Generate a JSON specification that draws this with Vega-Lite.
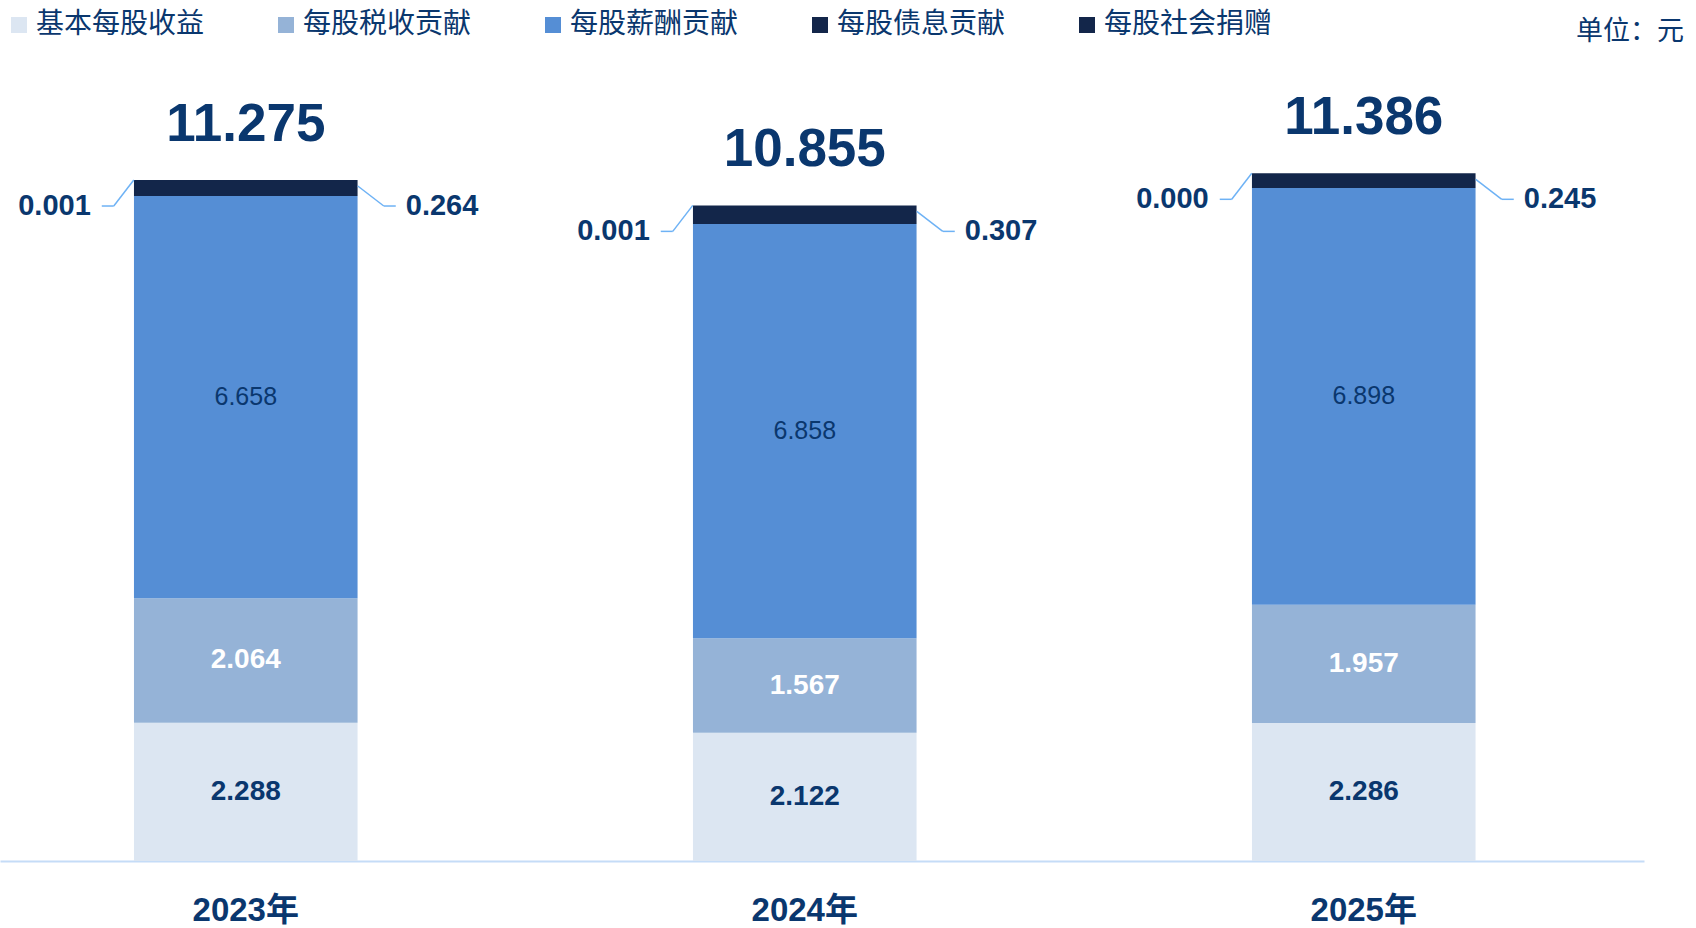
{
  "$schema": "https://vega.github.io/schema/vega-lite/v6.json",
  "width": 1644,
  "height": 801,
  "autosize": {"type": "none"},
  "padding": {"top": 60, "left": 0, "right": 52, "bottom": 67},
  "background": "white",
  "config": {"view": {"stroke": null}},
  "datasets": {
    "segments": [
      {"year": "2023年", "category": "基本每股收益", "ord": 1, "value": 2.288},
      {"year": "2023年", "category": "每股税收贡献", "ord": 2, "value": 2.064},
      {"year": "2023年", "category": "每股薪酬贡献", "ord": 3, "value": 6.658},
      {"year": "2023年", "category": "每股债息贡献", "ord": 4, "value": 0.264},
      {"year": "2023年", "category": "每股社会捐赠", "ord": 5, "value": 0.001},
      {"year": "2024年", "category": "基本每股收益", "ord": 1, "value": 2.122},
      {"year": "2024年", "category": "每股税收贡献", "ord": 2, "value": 1.567},
      {"year": "2024年", "category": "每股薪酬贡献", "ord": 3, "value": 6.858},
      {"year": "2024年", "category": "每股债息贡献", "ord": 4, "value": 0.307},
      {"year": "2024年", "category": "每股社会捐赠", "ord": 5, "value": 0.001},
      {"year": "2025年", "category": "基本每股收益", "ord": 1, "value": 2.286},
      {"year": "2025年", "category": "每股税收贡献", "ord": 2, "value": 1.957},
      {"year": "2025年", "category": "每股薪酬贡献", "ord": 3, "value": 6.898},
      {"year": "2025年", "category": "每股债息贡献", "ord": 4, "value": 0.245},
      {"year": "2025年", "category": "每股社会捐赠", "ord": 5, "value": 0.000}
    ],
    "totals": [
      {"year": "2023年", "total": 11.275, "debt": 0.264, "donation": 0.001},
      {"year": "2024年", "total": 10.855, "debt": 0.307, "donation": 0.001},
      {"year": "2025年", "total": 11.386, "debt": 0.245, "donation": 0.000}
    ]
  },
  "title": {
    "text": "单位：元",
    "anchor": "end",
    "frame": "group",
    "font": "Noto Sans CJK SC",
    "fontSize": 27,
    "fontWeight": "normal",
    "color": "#0a376e",
    "offset": 0,
    "dx": 40,
    "dy": 35
  },
  "encoding": {
    "x": {
      "field": "year",
      "type": "nominal",
      "sort": ["2023年", "2024年", "2025年"],
      "scale": {"paddingInner": 0.6, "paddingOuter": 0.2705, "align": 0.443},
      "axis": {
        "title": null,
        "domainColor": "#c5dcf7",
        "domainWidth": 2,
        "ticks": false,
        "grid": false,
        "labelAngle": 0,
        "labelFont": "Liberation Sans, Noto Sans CJK SC",
        "labelFontSize": 33,
        "labelFontWeight": "bold",
        "labelColor": "#0a376e",
        "labelPadding": 33
      }
    }
  },
  "layer": [
    {
      "data": {"name": "segments"},
      "mark": {"type": "bar"},
      "encoding": {
        "y": {
          "field": "value",
          "type": "quantitative",
          "stack": "zero",
          "scale": {"domain": [0, 13.262], "nice": false, "zero": true},
          "axis": null
        },
        "color": {
          "field": "category",
          "type": "nominal",
          "scale": {
            "domain": ["基本每股收益", "每股税收贡献", "每股薪酬贡献", "每股债息贡献", "每股社会捐赠"],
            "range": ["#DCE6F2", "#95B3D7", "#558ED5", "#13264A", "#13264A"]
          },
          "legend": {
            "orient": "none",
            "legendX": 5,
            "legendY": -49,
            "direction": "horizontal",
            "title": null,
            "padding": 0,
            "symbolType": "square",
            "symbolSize": 256,
            "symbolStrokeWidth": 0,
            "symbolOpacity": 1,
            "labelFont": "Noto Sans CJK SC",
            "labelFontSize": 28,
            "labelColor": "#0a376e",
            "labelOffset": 3,
            "labelLimit": 400,
            "columnPadding": 67
          }
        },
        "order": {"field": "ord", "type": "quantitative"}
      }
    },
    {
      "data": {"name": "segments"},
      "transform": [
        {"filter": "datum.ord <= 3"},
        {"stack": "value", "groupby": ["year"], "sort": [{"field": "ord", "order": "ascending"}], "as": ["v0", "v1"]},
        {"fold": ["v0", "v1"], "as": ["edge_key", "edge"]},
        {"aggregate": [{"op": "mean", "field": "edge", "as": "mid"}], "groupby": ["year", "category", "value", "ord"]}
      ],
      "layer": [
        {
          "transform": [{"filter": "datum.ord <= 2"}],
          "mark": {"type": "text", "font": "Liberation Sans", "fontWeight": "bold", "fontSize": 28, "baseline": "middle"},
          "encoding": {
            "y": {"field": "mid", "type": "quantitative", "axis": null},
            "text": {"field": "value", "type": "quantitative", "format": ".3f"},
            "color": {"condition": {"test": "datum.ord == 2", "value": "#ffffff"}, "value": "#0a376e"}
          }
        },
        {
          "transform": [{"filter": "datum.ord == 3"}],
          "mark": {"type": "text", "font": "Liberation Sans", "fontWeight": "normal", "fontSize": 25, "baseline": "middle", "color": "#0a376e"},
          "encoding": {
            "y": {"field": "mid", "type": "quantitative", "axis": null},
            "text": {"field": "value", "type": "quantitative", "format": ".3f"}
          }
        }
      ]
    },
    {
      "data": {"name": "totals"},
      "mark": {"type": "text", "font": "Liberation Sans", "fontWeight": "bold", "fontSize": 53, "color": "#0a376e", "baseline": "alphabetic", "dy": -39},
      "encoding": {
        "y": {"field": "total", "type": "quantitative", "axis": null},
        "text": {"field": "total", "type": "quantitative", "format": ".3f"}
      }
    },
    {
      "data": {"name": "totals"},
      "mark": {"type": "text", "font": "Liberation Sans", "fontWeight": "bold", "fontSize": 29, "color": "#0a376e", "baseline": "middle", "align": "right", "dx": -155, "dy": 26},
      "encoding": {
        "y": {"field": "total", "type": "quantitative", "axis": null},
        "text": {"field": "donation", "type": "quantitative", "format": ".3f"}
      }
    },
    {
      "data": {"name": "totals"},
      "mark": {"type": "text", "font": "Liberation Sans", "fontWeight": "bold", "fontSize": 29, "color": "#0a376e", "baseline": "middle", "align": "left", "dx": 160, "dy": 26},
      "encoding": {
        "y": {"field": "total", "type": "quantitative", "axis": null},
        "text": {"field": "debt", "type": "quantitative", "format": ".3f"}
      }
    },
    {
      "data": {"name": "totals"},
      "mark": {"type": "rule", "color": "#6eb2f5", "strokeWidth": 1.5, "xOffset": -112, "x2Offset": -132, "yOffset": 0, "y2Offset": 26},
      "encoding": {
        "y": {"field": "total", "type": "quantitative", "axis": null},
        "y2": {"field": "total"},
        "x2": {"field": "year"}
      }
    },
    {
      "data": {"name": "totals"},
      "mark": {"type": "rule", "color": "#6eb2f5", "strokeWidth": 1.5, "xOffset": -132, "x2Offset": -144, "yOffset": 26, "y2Offset": 26},
      "encoding": {
        "y": {"field": "total", "type": "quantitative", "axis": null},
        "y2": {"field": "total"},
        "x2": {"field": "year"}
      }
    },
    {
      "data": {"name": "totals"},
      "mark": {"type": "rule", "color": "#6eb2f5", "strokeWidth": 1.5, "xOffset": 112, "x2Offset": 138, "yOffset": 6, "y2Offset": 26},
      "encoding": {
        "y": {"field": "total", "type": "quantitative", "axis": null},
        "y2": {"field": "total"},
        "x2": {"field": "year"}
      }
    },
    {
      "data": {"name": "totals"},
      "mark": {"type": "rule", "color": "#6eb2f5", "strokeWidth": 1.5, "xOffset": 138, "x2Offset": 150, "yOffset": 26, "y2Offset": 26},
      "encoding": {
        "y": {"field": "total", "type": "quantitative", "axis": null},
        "y2": {"field": "total"},
        "x2": {"field": "year"}
      }
    }
  ]
}
